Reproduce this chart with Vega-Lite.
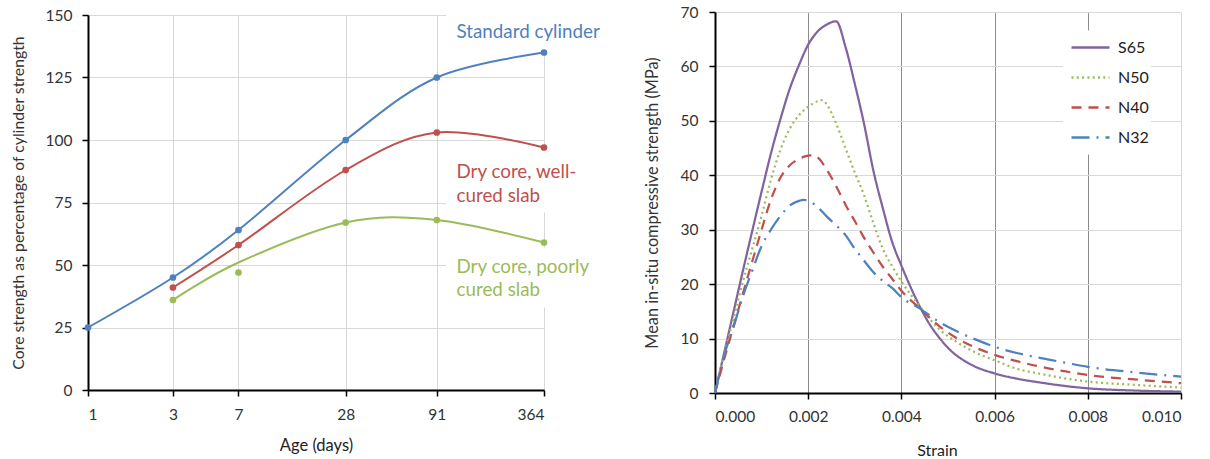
{
  "$schema": "https://vega.github.io/schema/vega-lite/v6.json",
  "background": "white",
  "padding": {"left": 10, "top": 5, "right": 5, "bottom": 5},
  "bounds": "flush",
  "spacing": 171,
  "center": true,
  "resolve": {"scale": {"color": "independent", "strokeDash": "independent"}, "legend": {"color": "independent", "strokeDash": "independent"}},
  "config": {
    "view": {"stroke": null},
    "font": "Lato",
    "axis": {
      "labelColor": "#333333",
      "titleColor": "#333333",
      "titleFontWeight": "normal",
      "domainColor": "#000000",
      "domainWidth": 2,
      "tickColor": "#000000",
      "tickWidth": 1.5,
      "tickSize": 6,
      "gridColor": "#d9d9d9",
      "gridWidth": 1
    }
  },
  "datasets": {
    "strength": [
      {"series": "Standard cylinder", "age": 1, "value": 25, "curve": 25},
      {"series": "Standard cylinder", "age": 3, "value": 45, "curve": 45},
      {"series": "Standard cylinder", "age": 7, "value": 64, "curve": 64},
      {"series": "Standard cylinder", "age": 28, "value": 100, "curve": 100},
      {"series": "Standard cylinder", "age": 91, "value": 125, "curve": 125},
      {"series": "Standard cylinder", "age": 364, "value": 135, "curve": 135},
      {"series": "Dry core, well-cured slab", "age": 3, "value": 41, "curve": 41},
      {"series": "Dry core, well-cured slab", "age": 7, "value": 58, "curve": 58},
      {"series": "Dry core, well-cured slab", "age": 28, "value": 88, "curve": 88},
      {"series": "Dry core, well-cured slab", "age": 91, "value": 103, "curve": 103},
      {"series": "Dry core, well-cured slab", "age": 364, "value": 97, "curve": 97},
      {"series": "Dry core, poorly cured slab", "age": 3, "value": 36, "curve": 36},
      {"series": "Dry core, poorly cured slab", "age": 7, "value": 47, "curve": 51},
      {"series": "Dry core, poorly cured slab", "age": 28, "value": 67, "curve": 67},
      {"series": "Dry core, poorly cured slab", "age": 91, "value": 68, "curve": 68},
      {"series": "Dry core, poorly cured slab", "age": 364, "value": 59, "curve": 59}
    ],
    "boxes": [
      {"age": 102.5, "age2": 800, "value": 136, "value2": 150},
      {"age": 102.5, "age2": 800, "value": 71, "value2": 96},
      {"age": 102.5, "age2": 800, "value": 33, "value2": 57}
    ],
    "labels": [
      {"series": "Standard cylinder", "label": "Standard cylinder", "age": 117.4, "value": 140.9},
      {"series": "Dry core, well-cured slab", "label": "Dry core, well-", "age": 117.4, "value": 84.9},
      {"series": "Dry core, well-cured slab", "label": "cured slab", "age": 117.4, "value": 75.3},
      {"series": "Dry core, poorly cured slab", "label": "Dry core, poorly", "age": 117.4, "value": 46.9},
      {"series": "Dry core, poorly cured slab", "label": "cured slab", "age": 117.4, "value": 37.6}
    ],
    "curves": [
      {"curve": "S65", "strain": 0, "stress": 0},
      {"curve": "S65", "strain": 0.0002, "stress": 7.5},
      {"curve": "S65", "strain": 0.0004, "stress": 15},
      {"curve": "S65", "strain": 0.0006, "stress": 22.5},
      {"curve": "S65", "strain": 0.0008, "stress": 29.8},
      {"curve": "S65", "strain": 0.001, "stress": 37},
      {"curve": "S65", "strain": 0.0012, "stress": 44},
      {"curve": "S65", "strain": 0.0014, "stress": 50.2},
      {"curve": "S65", "strain": 0.0016, "stress": 55.8},
      {"curve": "S65", "strain": 0.0018, "stress": 60.2},
      {"curve": "S65", "strain": 0.002, "stress": 64},
      {"curve": "S65", "strain": 0.0022, "stress": 66.4},
      {"curve": "S65", "strain": 0.0024, "stress": 67.7},
      {"curve": "S65", "strain": 0.0026, "stress": 68.3},
      {"curve": "S65", "strain": 0.0028, "stress": 63.6},
      {"curve": "S65", "strain": 0.003, "stress": 56.8},
      {"curve": "S65", "strain": 0.0032, "stress": 49.4},
      {"curve": "S65", "strain": 0.0034, "stress": 40.8},
      {"curve": "S65", "strain": 0.0036, "stress": 34},
      {"curve": "S65", "strain": 0.0038, "stress": 27.8},
      {"curve": "S65", "strain": 0.004, "stress": 23.4},
      {"curve": "S65", "strain": 0.0042, "stress": 19.4},
      {"curve": "S65", "strain": 0.0044, "stress": 15.8},
      {"curve": "S65", "strain": 0.0046, "stress": 12.7},
      {"curve": "S65", "strain": 0.0048, "stress": 10.3},
      {"curve": "S65", "strain": 0.005, "stress": 8.3},
      {"curve": "S65", "strain": 0.0055, "stress": 5.2},
      {"curve": "S65", "strain": 0.006, "stress": 3.6},
      {"curve": "S65", "strain": 0.0065, "stress": 2.6},
      {"curve": "S65", "strain": 0.007, "stress": 1.9},
      {"curve": "S65", "strain": 0.0075, "stress": 1.3},
      {"curve": "S65", "strain": 0.008, "stress": 0.86},
      {"curve": "S65", "strain": 0.009, "stress": 0.45},
      {"curve": "S65", "strain": 0.01, "stress": 0.25},
      {"curve": "N50", "strain": 0, "stress": 0},
      {"curve": "N50", "strain": 0.0002, "stress": 7.3},
      {"curve": "N50", "strain": 0.0004, "stress": 13.8},
      {"curve": "N50", "strain": 0.0006, "stress": 20.5},
      {"curve": "N50", "strain": 0.0008, "stress": 26.5},
      {"curve": "N50", "strain": 0.001, "stress": 32.6},
      {"curve": "N50", "strain": 0.0012, "stress": 39.2},
      {"curve": "N50", "strain": 0.0014, "stress": 44.6},
      {"curve": "N50", "strain": 0.0016, "stress": 48.5},
      {"curve": "N50", "strain": 0.0018, "stress": 51},
      {"curve": "N50", "strain": 0.002, "stress": 52.6},
      {"curve": "N50", "strain": 0.0022, "stress": 53.6},
      {"curve": "N50", "strain": 0.0023, "stress": 53.8},
      {"curve": "N50", "strain": 0.0024, "stress": 53},
      {"curve": "N50", "strain": 0.0026, "stress": 49.5},
      {"curve": "N50", "strain": 0.0028, "stress": 45},
      {"curve": "N50", "strain": 0.003, "stress": 40.5},
      {"curve": "N50", "strain": 0.0032, "stress": 36.3},
      {"curve": "N50", "strain": 0.0034, "stress": 31.2},
      {"curve": "N50", "strain": 0.0036, "stress": 26.5},
      {"curve": "N50", "strain": 0.0038, "stress": 23.3},
      {"curve": "N50", "strain": 0.004, "stress": 20.5},
      {"curve": "N50", "strain": 0.0044, "stress": 15.9},
      {"curve": "N50", "strain": 0.0048, "stress": 11.8},
      {"curve": "N50", "strain": 0.0052, "stress": 9.3},
      {"curve": "N50", "strain": 0.0056, "stress": 7.4},
      {"curve": "N50", "strain": 0.006, "stress": 6},
      {"curve": "N50", "strain": 0.0065, "stress": 4.4},
      {"curve": "N50", "strain": 0.007, "stress": 3.5},
      {"curve": "N50", "strain": 0.0075, "stress": 2.7},
      {"curve": "N50", "strain": 0.008, "stress": 2.1},
      {"curve": "N50", "strain": 0.009, "stress": 1.5},
      {"curve": "N50", "strain": 0.01, "stress": 1.0},
      {"curve": "N40", "strain": 0, "stress": 0},
      {"curve": "N40", "strain": 0.0002, "stress": 6.3},
      {"curve": "N40", "strain": 0.0004, "stress": 12.3},
      {"curve": "N40", "strain": 0.0006, "stress": 18.3},
      {"curve": "N40", "strain": 0.0008, "stress": 24.2},
      {"curve": "N40", "strain": 0.001, "stress": 30},
      {"curve": "N40", "strain": 0.0012, "stress": 35.5},
      {"curve": "N40", "strain": 0.0014, "stress": 39.5},
      {"curve": "N40", "strain": 0.0016, "stress": 41.8},
      {"curve": "N40", "strain": 0.0018, "stress": 43},
      {"curve": "N40", "strain": 0.002, "stress": 43.6},
      {"curve": "N40", "strain": 0.0021, "stress": 43.7},
      {"curve": "N40", "strain": 0.0022, "stress": 43.3},
      {"curve": "N40", "strain": 0.0024, "stress": 41},
      {"curve": "N40", "strain": 0.0026, "stress": 38},
      {"curve": "N40", "strain": 0.0028, "stress": 34.6},
      {"curve": "N40", "strain": 0.003, "stress": 31.6},
      {"curve": "N40", "strain": 0.0032, "stress": 28.5},
      {"curve": "N40", "strain": 0.0034, "stress": 25.8},
      {"curve": "N40", "strain": 0.0036, "stress": 23.2},
      {"curve": "N40", "strain": 0.0038, "stress": 21},
      {"curve": "N40", "strain": 0.004, "stress": 18.8},
      {"curve": "N40", "strain": 0.0044, "stress": 15.5},
      {"curve": "N40", "strain": 0.0048, "stress": 12.4},
      {"curve": "N40", "strain": 0.0052, "stress": 10},
      {"curve": "N40", "strain": 0.0056, "stress": 8.3},
      {"curve": "N40", "strain": 0.006, "stress": 7},
      {"curve": "N40", "strain": 0.0065, "stress": 5.8},
      {"curve": "N40", "strain": 0.007, "stress": 4.8},
      {"curve": "N40", "strain": 0.0075, "stress": 4.0},
      {"curve": "N40", "strain": 0.008, "stress": 3.3},
      {"curve": "N40", "strain": 0.009, "stress": 2.5},
      {"curve": "N40", "strain": 0.01, "stress": 1.8},
      {"curve": "N32", "strain": 0, "stress": 0},
      {"curve": "N32", "strain": 0.0002, "stress": 7},
      {"curve": "N32", "strain": 0.0004, "stress": 12.2},
      {"curve": "N32", "strain": 0.0006, "stress": 17.8},
      {"curve": "N32", "strain": 0.0008, "stress": 22.5},
      {"curve": "N32", "strain": 0.001, "stress": 27},
      {"curve": "N32", "strain": 0.0012, "stress": 30},
      {"curve": "N32", "strain": 0.0014, "stress": 32.5},
      {"curve": "N32", "strain": 0.0016, "stress": 34.4},
      {"curve": "N32", "strain": 0.0018, "stress": 35.3},
      {"curve": "N32", "strain": 0.0019, "stress": 35.5},
      {"curve": "N32", "strain": 0.002, "stress": 35.3},
      {"curve": "N32", "strain": 0.0022, "stress": 34.2},
      {"curve": "N32", "strain": 0.0024, "stress": 32.4},
      {"curve": "N32", "strain": 0.0026, "stress": 30.8},
      {"curve": "N32", "strain": 0.0028, "stress": 29},
      {"curve": "N32", "strain": 0.003, "stress": 26.5},
      {"curve": "N32", "strain": 0.0032, "stress": 24.3},
      {"curve": "N32", "strain": 0.0034, "stress": 22.2},
      {"curve": "N32", "strain": 0.0036, "stress": 20.6},
      {"curve": "N32", "strain": 0.0038, "stress": 19.3},
      {"curve": "N32", "strain": 0.004, "stress": 17.6},
      {"curve": "N32", "strain": 0.0044, "stress": 15.5},
      {"curve": "N32", "strain": 0.0048, "stress": 13.1},
      {"curve": "N32", "strain": 0.0052, "stress": 11.3},
      {"curve": "N32", "strain": 0.0056, "stress": 9.8},
      {"curve": "N32", "strain": 0.006, "stress": 8.5},
      {"curve": "N32", "strain": 0.0065, "stress": 7.3},
      {"curve": "N32", "strain": 0.007, "stress": 6.4},
      {"curve": "N32", "strain": 0.0075, "stress": 5.6},
      {"curve": "N32", "strain": 0.008, "stress": 4.8},
      {"curve": "N32", "strain": 0.009, "stress": 3.8},
      {"curve": "N32", "strain": 0.01, "stress": 3.0}
    ]
  },
  "hconcat": [
    {
      "width": 456,
      "height": 375,
      "layer": [
        {
          "data": {"name": "boxes"},
          "mark": {"type": "rect", "fill": "white", "stroke": null},
          "encoding": {
            "x": {"field": "age", "type": "quantitative", "scale": {"type": "log", "domain": [1, 364], "nice": false}},
            "x2": {"field": "age2"},
            "y": {"field": "value", "type": "quantitative", "scale": {"domain": [0, 150], "nice": false}},
            "y2": {"field": "value2"}
          }
        },
        {
          "data": {"name": "strength"},
          "mark": {"type": "line", "interpolate": "cardinal", "tension": 0, "strokeWidth": 2},
          "encoding": {
            "x": {
              "field": "age", "type": "quantitative",
              "scale": {"type": "log", "domain": [1, 364], "nice": false},
              "axis": {
                "title": "Age (days)", "values": [1, 3, 7, 28, 91, 364], "format": "d",
                "grid": true, "labelFontSize": 15.5, "labelBaseline": "alphabetic", "labelPadding": 23.5,
                "titleFontSize": 16.5, "titleBaseline": "alphabetic", "titleY": 60, "titleColor": "#222222"
              }
            },
            "y": {
              "field": "curve", "type": "quantitative",
              "scale": {"domain": [0, 150], "nice": false},
              "axis": {
                "title": "Core strength as percentage of cylinder strength",
                "values": [0, 25, 50, 75, 100, 125, 150], "grid": true,
                "labelFontSize": 15.5, "labelPadding": 10,
                "titleFontSize": 15.8, "titleBaseline": "alphabetic", "titleX": -65
              }
            },
            "color": {
              "field": "series", "type": "nominal",
              "scale": {"domain": ["Standard cylinder", "Dry core, well-cured slab", "Dry core, poorly cured slab"], "range": ["#4F81BD", "#C0504D", "#9BBB59"]},
              "legend": null
            }
          }
        },
        {
          "data": {"name": "strength"},
          "mark": {"type": "circle", "size": 45, "opacity": 1},
          "encoding": {
            "x": {"field": "age", "type": "quantitative"},
            "y": {"field": "value", "type": "quantitative"},
            "color": {"field": "series", "type": "nominal", "legend": null}
          }
        },
        {
          "data": {"name": "labels"},
          "mark": {"type": "text", "align": "left", "baseline": "alphabetic", "fontSize": 18.8},
          "encoding": {
            "x": {"field": "age", "type": "quantitative"},
            "y": {"field": "value", "type": "quantitative"},
            "text": {"field": "label"},
            "color": {"field": "series", "type": "nominal", "legend": null}
          }
        }
      ]
    },
    {
      "width": 466,
      "height": 381,
      "data": {"name": "curves"},
      "mark": {"type": "line", "interpolate": "monotone", "strokeWidth": 2.25},
      "encoding": {
        "x": {
          "field": "strain", "type": "quantitative",
          "scale": {"domain": [0, 0.01], "nice": false},
          "axis": {
            "title": "Strain", "values": [0, 0.002, 0.004, 0.006, 0.008, 0.01], "format": ".3f",
            "grid": true,
            "gridColor": {"condition": {"test": "datum.value > 0.0095", "value": "#d9d9d9"}, "value": "#8c8c8c"},
            "labelFontSize": 15.5, "labelBaseline": "alphabetic", "labelPadding": 22.7,
            "titleFontSize": 16, "titleBaseline": "alphabetic", "titleY": 62, "titleX": 222, "titleColor": "#222222"
          }
        },
        "y": {
          "field": "stress", "type": "quantitative",
          "scale": {"domain": [0, 70], "nice": false},
          "axis": {
            "title": "Mean in-situ compressive strength (MPa)",
            "values": [0, 10, 20, 30, 40, 50, 60, 70], "grid": true,
            "labelFontSize": 15.5, "labelPadding": 11,
            "titleFontSize": 16.3, "titleBaseline": "alphabetic", "titleX": -58
          }
        },
        "color": {
          "field": "curve", "type": "nominal",
          "scale": {"domain": ["S65", "N50", "N40", "N32"], "range": ["#8064A2", "#9BBB59", "#C0504D", "#4F81BD"]},
          "legend": {
            "title": null, "orient": "none", "legendX": 348, "legendY": 18.5,
            "fillColor": "white", "padding": 2, "symbolType": "stroke", "symbolSize": 1444,
            "symbolStrokeWidth": 2.5, "symbolOffset": 5, "labelOffset": 7,
            "labelFontSize": 16, "labelColor": "#222222", "clipHeight": 30, "rowPadding": 0
          }
        },
        "strokeDash": {
          "field": "curve", "type": "nominal",
          "scale": {"domain": ["S65", "N50", "N40", "N32"], "range": [[1, 0], [2, 3.3], [10, 7], [18, 7, 2, 7]]},
          "legend": {
            "title": null, "orient": "none", "legendX": 348, "legendY": 18.5,
            "fillColor": "white", "padding": 2, "symbolType": "stroke", "symbolSize": 1444,
            "symbolStrokeWidth": 2.5, "symbolOffset": 5, "labelOffset": 7,
            "labelFontSize": 16, "labelColor": "#222222", "clipHeight": 30, "rowPadding": 0
          }
        }
      }
    }
  ]
}
